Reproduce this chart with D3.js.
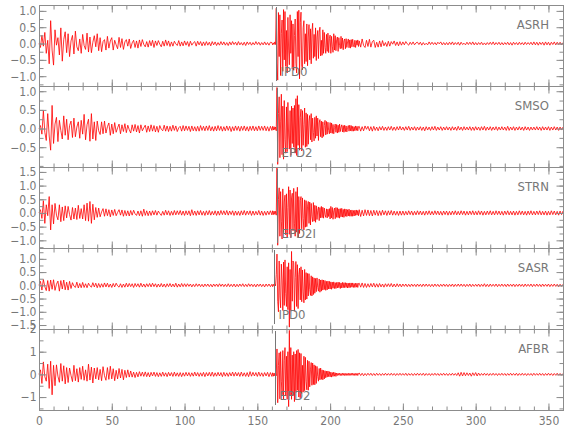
<!DOCTYPE html>
<html>
<head>
<meta charset="UTF-8">
<title>Seismograms</title>
<script src="https://cdn.jsdelivr.net/npm/d3@7"></script>
<style>
  body { margin: 0; background: #fff; }
  svg text { font-family: "Liberation Sans Narrow", "DejaVu Sans Condensed", "Arial Narrow", sans-serif; fill: #777; }
</style>
</head>
<body>
<div id="chart"></div>
<script>
// amplitudes in hundredths: pre = 0..159 s (1 s), main = 160..219.5 s (0.5 s), post = 220..360 s (1 s)
const stations = ["ASRH", "SMSO", "STRN", "SASR", "AFBR"];
const phaseNames = ["IPD0", "EPD2", "EPD2I", "IPD0", "EPD2"];
const phaseTimes = [162.5, 163.3, 163.3, 161.6, 162.2];
const yRanges = [[-1.30, 1.18], [-1.03, 1.14], [-1.28, 1.68], [-1.65, 1.41], [-1.57, 2.0]];
const yMajor = [[-1, -0.5, 0, 0.5, 1], [-0.5, 0, 0.5, 1], [-1, -0.5, 0, 0.5, 1, 1.5], [-1.5, -1, -0.5, 0, 0.5, 1], [-1, 0, 1, 2]];
const yMinorStep = [0.25, 0.25, 0.25, 0.25, 0.5];
const xLabels = [0, 50, 100, 150, 200, 250, 300, 350];

const asrhPre = [
  0,-12,25,-8,34,-30,10,-62,70,-20, -66,42,-5,18,-35,48,-54,12,36,-28,
  30,-40,8,25,-32,38,-10,-22,14,-30, 28,-6,-18,32,-26,20,-28,4,24,-10,
  30,-22,18,-25,6,12,-20,22,-14,8, 18,-20,10,-4,-16,19,-12,15,-18,5,
  12,-8,14,-15,2,10,-12,8,-14,11, -9,12,-3,-10,6,-11,9,-7,10,-12,
  8,-6,9,-2,-10,7,-8,11,-6,8, -9,5,-8,7,-1,-6,9,-8,5,-7,
  8,-5,6,-9,7,-5,2,6,-8,7, -4,6,-7,5,-6,6,-5,4,-7,6,
  -4,5,-6,3,-5,6,-4,5,-5,3, -6,5,-4,6,-3,4,-5,6,-4,3,
  -5,4,-6,5,-3,4,-5,3,-4,6, -3,4,-5,3,-4,5,-4,3,-5,4
];
const asrhMain = [
  3,-4,2,-3,5,-3,108,-60,-112,95, -40,88,-98,30,72,-85,104,-50,98,-70,
  40,-90,80,-20,-65,88,-30,70,-78,60, -82,25,75,-60,-90,98,-40,102,-108,65,
  96,-70,-80,48,70,-62,30,-55,60,-68, 20,58,-50,45,-62,35,62,-45,28,-40,
  48,-52,20,40,-46,35,50,-38,10,-36, 42,-30,34,-12,-30,28,-24,32,-28,15,
  26,-30,22,-8,-27,30,-20,24,-22,12, 20,-24,18,-6,-16,22,-15,17,-19,8,
  14,-16,15,-12,5,14,-13,11,-14,12, -10,13,-4,-11,10,-12,9,-5,11,-9
];
const asrhPost = [
  8,-11,14,-6,-12,10,-9,13,-11,6, 10,-12,4,-11,8,-10,9,-7,3,-9,
  7,-8,6,-2,8,-6,5,-7,6,-5, 5,-4,6,-1,-5,4,-3,5,-4,2,
  4,-3,4,-5,3,-4,1,-4,5,-3, 4,-3,3,-4,4,-1,5,-4,3,-4,
  3,-4,4,-3,5,-4,3,-3,4,-5, 4,-3,1,-4,4,-3,4,-3,5,-4,
  3,-4,3,-3,4,-4,2,-4,3,-3, 4,-3,5,-4,3,-3,4,-4,3,-4,
  3,-3,4,-4,3,-5,4,-3,3,-4, 4,-3,3,-4,4,-3,3,-3,4,-4,
  5,-4,4,-5,4,-3,4,-5,5,-4, 4,-5,4,-3,5,-4,4,-3,4,-4,
  3
];

const smsoPre = [
  0,8,-15,48,-10,-32,40,-20,-58,62, -40,12,30,-35,22,-5,-28,34,-18,25,
  -30,8,20,-24,28,-22,4,18,-26,22, -15,38,-30,10,25,-34,40,-28,18,-32,
  20,-6,-16,18,-14,20,-12,5,15,-18, 12,-14,16,-10,2,12,-14,10,-8,13,
  -11,9,-3,-12,10,-7,11,-9,8,-12, 10,-6,2,9,-10,7,-8,10,-7,8,
  -9,6,-10,8,-2,-6,9,-7,7,-8, 6,-7,9,-5,7,-8,2,6,-7,8,
  -6,7,-5,6,-8,7,-6,5,-7,6, -7,8,-5,6,-6,7,-5,8,-6,5,
  -7,6,-6,8,-5,6,-7,5,-6,7, -5,6,-8,5,-6,7,-5,6,-7,6,
  -5,7,-6,5,-7,6,-5,7,-6,5, -6,7,-5,6,-5,7,-6,5,-7,6
];
const smsoMain = [
  -5,6,-4,5,-3,4,-6,110,-96,40, 85,-78,20,92,-70,60,-82,75,-30,-66,
  58,-62,70,-20,-55,48,-72,60,-40,55, -50,62,-66,80,-72,88,-45,64,-58,30,
  52,-60,48,-45,10,55,-50,42,-48,38, -42,20,35,-30,40,-36,28,-10,-33,30,
  -26,34,-20,28,-32,15,24,-22,20,-25, 18,-21,8,22,-17,19,-15,17,-5,-14,
  16,-12,15,-13,11,-14,3,12,-10,11, -12,9,-10,12,-8,4,10,-9,8,-10,
  9,-8,7,-9,3,8,-7,9,-6,8, -7,6,-7,5,-6,7,-5,6,-6,5
];
const smsoPost = [
  6,-7,5,-6,7,-2,6,-6,5,-7, 6,-5,4,-6,5,-4,6,-5,4,-5,
  5,-4,6,-5,4,-5,5,-4,6,-4, 4,-5,5,-4,6,-5,4,-4,5,-5,
  4,-4,5,-5,4,-6,5,-4,4,-5, 5,-4,6,-5,4,-4,5,-5,4,-4,
  5,-4,4,-5,5,-4,4,-5,6,-4, 4,-5,5,-4,4,-4,5,-5,4,-5,
  5,-4,4,-5,5,-4,6,-5,4,-4, 5,-5,4,-4,5,-5,4,-4,5,-4,
  4,-5,6,-5,4,-4,5,-5,4,-4, 5,-4,4,-5,5,-4,4,-5,4,-4,
  4,-4,5,-4,4,-5,5,-4,4,-4, 5,-5,4,-4,5,-4,4,-5,4,-4,
  4
];

const strnPre = [
  0,12,-20,45,-38,30,-10,60,-62,30, -40,35,-8,-25,30,-32,22,-28,26,-18,
  24,-6,-26,20,-22,18,-24,28,-20,16, -22,30,-28,36,-30,42,-38,32,-25,20,
  -16,18,-14,4,16,-12,15,-10,12,-14, 11,-9,13,-10,2,12,-8,11,-12,9,
  -10,8,-11,9,-8,10,-3,-9,7,-10, 8,-12,14,-9,8,-10,7,-9,8,-7,
  9,-8,7,-2,-9,6,-8,10,-7,8, -9,6,-8,9,-7,8,-6,9,-8,7,
  -9,8,-7,8,-10,12,-8,7,-9,8, -7,9,-8,6,-9,8,-7,9,-8,6,
  -7,8,-9,7,-8,9,-6,8,-7,9, -8,7,-6,8,-9,7,-8,6,-9,8,
  -7,9,-8,7,-6,8,-9,7,-8,6, -7,9,-8,7,-9,6,-8,7,-6,8
];
const strnMain = [
  -7,8,-6,7,-5,6,-8,168,-118,50, 92,-85,78,-30,-95,88,-72,40,65,-80,
  70,-88,20,96,-78,84,-90,55,72,-65, 90,-40,-85,78,-70,94,-88,60,-75,45,
  60,-58,55,-20,-62,48,-52,45,-50,25, 42,-38,40,-44,35,-12,-32,38,-30,28,
  -34,26,-24,10,22,-28,20,-18,24,-17, 21,-19,18,-6,-16,15,-18,14,-13,16,
  -22,24,-18,20,-23,8,18,-21,20,-16, 19,-17,15,-19,16,-14,17,-15,13,-16,
  15,-12,14,-13,12,-11,14,-12,10,-12, 11,-12,9,-11,10,-9,11,-8,9,-10
];
const strnPost = [
  12,-13,10,-11,12,-9,11,-10,9,-11, 10,-8,9,-10,8,-9,10,-7,8,-9,
  8,-7,9,-8,7,-8,6,-9,7,-8, 7,-8,6,-7,8,-6,7,-8,6,-7,
  8,-6,7,-7,6,-8,7,-6,8,-7, 6,-7,8,-6,7,-7,6,-8,7,-6,
  7,-8,6,-7,7,-6,8,-7,6,-7, 8,-6,7,-8,6,-7,7,-6,8,-7,
  6,-7,8,-6,7,-8,6,-7,7,-6, 8,-7,6,-7,8,-6,7,-7,6,-8,
  7,-6,8,-7,6,-7,7,-8,6,-7, 8,-6,7,-7,6,-8,7,-6,8,-7,
  6,-7,7,-6,8,-7,6,-7,7,-8, 6,-7,8,-6,7,-7,6,-8,7,-6,
  7
];

const sasrPre = [
  0,15,-18,22,-5,-20,18,-22,20,-15, 21,-19,4,16,-22,18,-14,20,-17,12,
  -18,15,-12,10,-3,-8,12,-10,7,-9, 11,-8,6,-9,8,-2,-7,10,-6,8,
  -9,7,-8,6,-7,9,-6,8,-7,5, -8,7,-6,8,-2,-7,6,-8,5,-7,
  8,-6,7,-5,6,-8,7,-5,6,-7, 8,-6,5,-7,6,-5,7,-6,8,-5,
  6,-7,5,-6,7,-6,5,-7,6,-5, 7,-6,5,-6,8,-7,5,-6,7,-5,
  6,-5,6,-4,5,-6,4,-5,6,-4, 5,-5,4,-6,5,-4,5,-5,4,-6,
  5,-4,5,-5,6,-4,5,-5,4,-5, 6,-5,4,-5,5,-6,4,-5,5,-4,
  6,-5,4,-5,6,-4,5,-5,4,-6, 5,-4,5,-5,4,-6,5,-4,5,-5
];
const sasrMain = [
  4,-5,4,-3,5,-2,40,118,-60,-100, 92,-40,-85,80,20,-95,88,-76,96,-30,
  -80,70,-92,85,-158,60,-98,128,-60,92, 85,-98,30,90,-80,78,-88,40,65,-55,
  70,-62,58,-25,-66,60,-55,48,-52,45, -40,44,-15,-38,36,-40,32,-35,28,-30,
  26,-24,28,-8,-22,24,-26,20,-22,21, -18,20,-16,18,-19,15,-17,16,-14,15,
  -14,13,-15,12,-11,13,-12,10,-12,11, -10,12,-9,11,-12,9,-10,11,-9,10,
  -9,10,-8,9,-10,8,-9,9,-8,9, -7,9,-8,7,-8,8,-7,8,-8,7
];
const sasrPost = [
  8,-7,9,-8,7,-8,6,-7,7,-6, 8,-7,6,-7,7,-6,5,-7,6,-5,
  6,-5,7,-6,5,-6,6,-5,5,-6, 5,-4,5,-5,4,-5,5,-4,4,-5,
  5,-4,4,-5,5,-4,5,-4,4,-5, 4,-5,5,-4,4,-5,4,-4,5,-4,
  4,-5,4,-4,5,-5,4,-4,5,-4, 5,-4,4,-5,4,-4,5,-5,4,-4,
  4,-4,5,-5,4,-4,6,-5,4,-5, 5,-4,4,-4,5,-5,4,-4,5,-4,
  4,-5,5,-4,4,-4,5,-5,4,-4, 5,-4,4,-5,5,-4,4,-4,5,-5,
  4,-4,5,-4,4,-5,5,-4,4,-4, 5,-5,4,-4,5,-4,4,-5,4,-4,
  4
];

const afbrPre = [
  0,20,-40,55,-10,-30,45,-62,58,-90, 40,-50,42,-8,-35,48,-30,38,-42,30,
  -36,28,-5,-32,40,-28,25,-34,30,-22, 36,-26,20,-30,45,-25,32,-38,28,-20,
  30,-24,22,-28,34,-6,-26,30,-22,36, -20,25,-28,18,-20,26,-16,22,-24,18,
  -14,20,-12,15,-12,10,-14,9,-11,12, -8,10,-9,11,-10,8,-11,9,-7,10,
  -9,8,-10,7,-9,10,-8,7,-10,9, -7,8,-9,10,-8,7,-9,8,-10,7,
  -8,9,-7,8,-9,7,-8,10,-7,8, -9,7,-8,9,-10,8,-7,9,-8,10,
  -9,7,-8,9,-7,8,-10,9,-8,7, -9,8,-7,10,-8,9,-7,8,-9,10,
  -8,7,-9,8,-10,12,-8,9,-7,8, -9,10,-8,7,-9,8,-7,9,-10,8
];
const afbrMain = [
  -9,7,-8,6,-7,8,-6,112,-125,40, 95,-108,100,-30,-90,105,-112,60,118,-95,
  80,-110,100,-142,194,-95,118,-110,85,-95, 100,-120,90,-80,105,-70,110,-100,95,-105,
  92,-85,40,-78,80,-72,75,-30,-68,62, -70,58,-55,20,52,-48,50,-45,42,-46,
  38,-40,35,-10,-30,26,-24,28,-22,20, -24,18,-20,16,-15,14,-12,15,-10,12,
  -11,10,-12,8,-9,10,-8,7,-9,6, -5,5,-4,5,-5,4,-5,5,-4,5,
  -5,4,-5,4,-4,5,-5,4,-4,5, -4,5,-4,4,-5,4,-4,5,-5,4
];
const afbrPost = [
  6,-5,5,-6,4,-5,5,-4,5,-5, 4,-5,5,-4,4,-5,4,-4,5,-4,
  4,-4,5,-4,4,-5,4,-4,5,-4, 4,-4,5,-5,4,-4,4,-5,4,-4,
  5,-4,4,-4,5,-5,4,-4,4,-5, 4,-4,5,-4,4,-5,4,-4,5,-4,
  4,-5,4,-4,5,-4,4,-5,7,-8, 9,-7,8,-6,7,-5,6,-8,7,-5,
  8,-7,6,-5,4,-4,5,-4,4,-5, 4,-4,5,-4,4,-5,4,-4,5,-4,
  4,-5,4,-4,5,-4,4,-4,5,-5, 4,-4,5,-4,4,-5,4,-4,4,-5,
  5,-4,4,-4,5,-4,4,-5,4,-4, 5,-4,4,-5,4,-4,5,-4,4,-4,
  4
];

const traces = [
  [asrhPre, asrhMain, asrhPost],
  [smsoPre, smsoMain, smsoPost],
  [strnPre, strnMain, strnPost],
  [sasrPre, sasrMain, sasrPost],
  [afbrPre, afbrMain, afbrPost]
];

// join the three pieces into (time, value) samples
function samples([pre, main, post]) {
  return [
    ...pre.map((v, k) => [k, v / 100]),
    ...main.map((v, k) => [160 + k * 0.5, v / 100]),
    ...post.map((v, k) => [220 + k, v / 100])
  ];
}

const W = 580, H = 440;
const left = 39, right = 563, top0 = 5, panelH = 81;
const frameColor = "#8c8c8c";

const svg = d3.select("#chart").append("svg")
  .attr("width", W)
  .attr("height", H);

const x = d3.scaleLinear().domain([0, 360]).range([left, right]);
const xMinor = d3.range(0, 361, 10);

stations.forEach((name, i) => {
  const top = top0 + i * panelH;
  const bottom = top + panelH;
  const y = d3.scaleLinear().domain(yRanges[i]).range([bottom, top]);
  const g = svg.append("g");
  const fmt = i === 4 ? d3.format("d") : d3.format(".1f");
  const step = yMinorStep[i];
  const minor = d3.range(Math.ceil(yRanges[i][0] / step) * step, yRanges[i][1], step);

  // trace
  const line = d3.line()
    .x(d => x(d[0]))
    .y(d => y(d[1]));
  g.append("path")
    .datum(samples(traces[i]))
    .attr("d", line)
    .attr("fill", "none")
    .attr("stroke", "#ff0000")
    .attr("stroke-width", 0.8)
    .attr("stroke-linejoin", "round");

  // phase pick
  const px = Math.round(x(phaseTimes[i])) + 0.5;
  g.append("line")
    .attr("x1", px).attr("x2", px)
    .attr("y1", top + 2).attr("y2", bottom - 5)
    .attr("stroke", "#777")
    .attr("stroke-width", 1);
  g.append("text")
    .attr("x", px + 4)
    .attr("y", top + 71)
    .attr("font-size", 13)
    .text(phaseNames[i]);

  // station name
  g.append("text")
    .attr("x", right - 14)
    .attr("y", top + 24)
    .attr("text-anchor", "end")
    .attr("font-size", 13)
    .text(name);

  // frame
  g.append("rect")
    .attr("x", left + 0.5).attr("y", top + 0.5)
    .attr("width", right - left).attr("height", panelH)
    .attr("fill", "none")
    .attr("stroke", frameColor);

  // y axes, ticks pointing inward
  const yl = g.append("g").attr("transform", `translate(${left + 0.5},0)`)
    .call(d3.axisLeft(y).tickValues(yMajor[i]).tickSizeInner(-7).tickSizeOuter(0).tickPadding(3).tickFormat(fmt));
  g.append("g").attr("transform", `translate(${left + 0.5},0)`)
    .call(d3.axisLeft(y).tickValues(minor).tickSizeInner(-4).tickSizeOuter(0).tickFormat(""));
  g.append("g").attr("transform", `translate(${right + 0.5},0)`)
    .call(d3.axisRight(y).tickValues(yMajor[i]).tickSizeInner(-7).tickSizeOuter(0).tickFormat(""));
  g.append("g").attr("transform", `translate(${right + 0.5},0)`)
    .call(d3.axisRight(y).tickValues(minor).tickSizeInner(-4).tickSizeOuter(0).tickFormat(""));
  yl.selectAll("text").attr("font-size", 12);

  // x ticks top and bottom
  g.append("g").attr("transform", `translate(0,${top + 0.5})`)
    .call(d3.axisTop(x).tickValues(xLabels).tickSizeInner(-7).tickSizeOuter(0).tickFormat(""));
  g.append("g").attr("transform", `translate(0,${top + 0.5})`)
    .call(d3.axisTop(x).tickValues(xMinor).tickSizeInner(-4).tickSizeOuter(0).tickFormat(""));
  const xb = g.append("g").attr("transform", `translate(0,${bottom + 0.5})`)
    .call(d3.axisBottom(x).tickValues(xLabels).tickSizeInner(-7).tickSizeOuter(0).tickPadding(6)
      .tickFormat(i === 4 ? d3.format("d") : ""));
  g.append("g").attr("transform", `translate(0,${bottom + 0.5})`)
    .call(d3.axisBottom(x).tickValues(xMinor).tickSizeInner(-4).tickSizeOuter(0).tickFormat(""));
  xb.selectAll("text").attr("font-size", 12);

  g.selectAll(".domain").remove();
  g.selectAll(".tick line").attr("stroke", frameColor);
});
</script>
</body>
</html>
